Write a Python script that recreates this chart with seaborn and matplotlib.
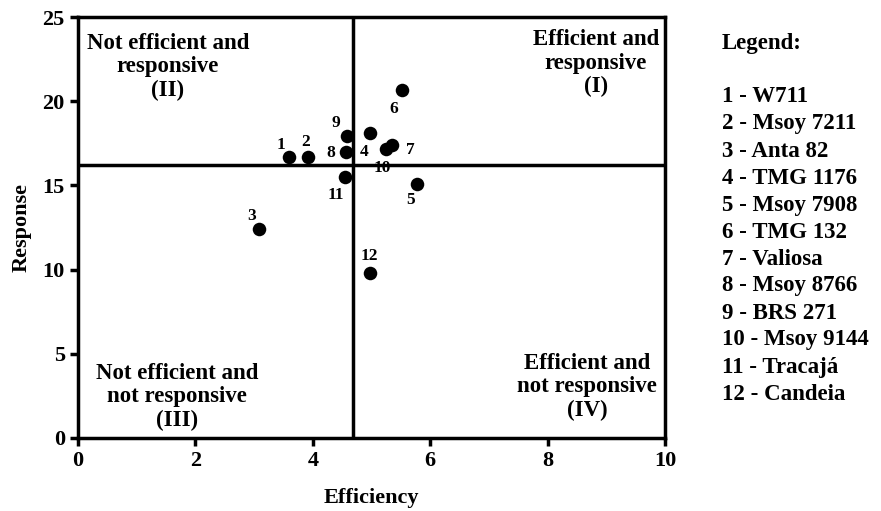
import numpy as np
import pandas as pd
import matplotlib
matplotlib.use("Agg")
import matplotlib.pyplot as plt
import seaborn as sns

# data
ids = [1, 2, 3, 4, 5, 6, 7, 8, 9, 10, 11, 12]
names = ["W711", "Msoy 7211", "Anta 82", "TMG 1176", "Msoy 7908", "TMG 132",
         "Valiosa", "Msoy 8766", "BRS 271", "Msoy 9144", "Tracajá", "Candeia"]
efficiency = [3.59, 3.92, 3.08, 4.97, 5.78, 5.52, 5.35, 4.57, 4.58, 5.25, 4.55, 4.97]
response = [16.69, 16.69, 12.41, 18.10, 15.08, 20.67, 17.40, 16.98, 17.93, 17.16, 15.50, 9.80]

df = pd.DataFrame({"id": ids, "Efficiency": efficiency, "Response": response})

sns.set_style("ticks")
plt.rcParams['font.family'] = ['Liberation Serif', 'DejaVu Serif']
plt.rcParams['font.weight'] = 'bold'
plt.rcParams['axes.edgecolor'] = 'black'
plt.rcParams['xtick.color'] = 'black'
plt.rcParams['ytick.color'] = 'black'
plt.rcParams['text.color'] = 'black'
plt.rcParams['axes.labelcolor'] = 'black'

fig = plt.figure(figsize=(8.81, 5.11), dpi=100)
ax = fig.add_axes([0.0885, 0.1429, 0.6665, 0.8238])

sns.scatterplot(data=df, x="Efficiency", y="Response", color="black", s=95,
                edgecolor="black", linewidth=0, ax=ax, zorder=3)

# quadrant lines at the means
ax.axvline(df["Efficiency"].mean(), color="black", lw=2.5, zorder=2)
ax.axhline(df["Response"].mean(), color="black", lw=2.5, zorder=2)

# point number labels (offsets in pixels)
offsets = [(-8, 12), (-3, 15), (-7, 13), (-6, -19), (-7, -16), (-8, -19),
           (18, -5), (-16, -1), (-11, 13), (-4, -19), (-9, -18), (0, 17)]
for i, (dx, dy) in zip(ids, offsets):
    r = df[df["id"] == i].iloc[0]
    ax.annotate(str(i), (r["Efficiency"], r["Response"]), xytext=(dx, dy),
                textcoords="offset pixels", ha="center", va="center",
                fontsize=12.5, fontweight="bold")

ax.set_xlim(0, 10)
ax.set_ylim(0, 25)
ax.set_xticks([0, 2, 4, 6, 8, 10])
ax.set_yticks([0, 5, 10, 15, 20, 25])
for s in ax.spines.values():
    s.set_linewidth(2.5)
ax.tick_params(width=2.5, length=6, labelsize=16)
for lab in ax.get_xticklabels() + ax.get_yticklabels():
    lab.set_fontweight("bold")
ax.set_xlabel("Efficiency", fontsize=16, fontweight="bold", labelpad=12)
ax.set_ylabel("Response", fontsize=16, fontweight="bold", labelpad=8)

# quadrant descriptions
kw = dict(ha="center", va="center", fontsize=16.5, fontweight="bold", linespacing=1.15)
ax.text(1.53, 22.05, "Not efficient and\nresponsive\n(II)", **kw)
ax.text(8.82, 22.25, "Efficient and\nresponsive\n(I)", **kw)
ax.text(1.69, 2.45, "Not efficient and\nnot responsive\n(III)", **kw)
ax.text(8.67, 3.05, "Efficient and\nnot responsive\n(IV)", **kw)

# legend block on the right
fig.text(722 / 881, 1 - 44 / 511, "Legend:", fontsize=16.5, fontweight="bold",
         va="center", ha="left")
for k, (i, n) in enumerate(zip(ids, names)):
    y = 97 + k * 27
    fig.text(722 / 881, 1 - y / 511, f"{i} - {n}", fontsize=16.5,
             fontweight="bold", va="center", ha="left")

fig.savefig("out.png", dpi=100)
